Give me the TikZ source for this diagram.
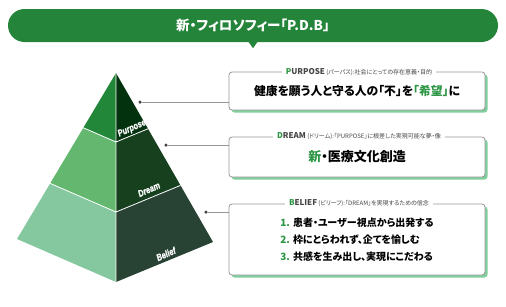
\documentclass[tikz,border=0pt]{standalone}
\usepackage{fontspec}
\setmainfont[RawFeature=+palt]{Noto Sans CJK JP}
\newfontfamily\pyrfont[BoldItalicFeatures={FakeBold=1.2}]{Liberation Sans}
\usetikzlibrary{
    positioning,
    calc,
    shadows
}
\definecolor{pdbgreen}{RGB}{36,133,58}
\definecolor{accentgreen}{RGB}{44,150,68}
\definecolor{shadowgreen}{RGB}{128,206,156}
\definecolor{frameline}{RGB}{150,150,150}
\definecolor{tagtext}{RGB}{70,70,70}
\definecolor{lefttop}{RGB}{35,135,58}
\definecolor{leftmid}{RGB}{100,183,110}
\definecolor{leftlow}{RGB}{133,200,160}
\definecolor{righttop}{RGB}{3,50,15}
\definecolor{rightmid}{RGB}{22,64,30}
\definecolor{rightlow}{RGB}{40,66,52}
\newcommand{\boxtag}[3]{{\bfseries\fontsize{8}{9}\selectfont\textcolor{accentgreen}{#1}#2}\ #3}
\tikzset{
    titlebar/.style={
        fill=pdbgreen,
        text=white,
        rounded corners=16.5pt,
        minimum width=490pt,
        minimum height=33pt,
        font=\bfseries\fontsize{13.5}{15}\selectfont
    },
    infobox/.style={
        draw=frameline,
        line width=0.8pt,
        rounded corners=3pt,
        fill=white,
        minimum width=256pt,
        drop shadow={shadow xshift=2.5pt, shadow yshift=-2.5pt, fill=shadowgreen, opacity=1},
        font=\bfseries\fontsize{11.8}{13}\selectfont
    },
    boxtitle/.style={
        fill=white,
        inner xsep=4pt,
        inner ysep=1pt,
        text=tagtext,
        font=\fontsize{6}{7}\selectfont
    },
    pyrlabel/.style={
        text=white,
        inner sep=0pt,
        rotate=24,
        xscale=0.78,
        font=\pyrfont\bfseries\itshape\fontsize{9.5}{10}\selectfont
    },
    dot/.style={
        circle,
        fill=tagtext,
        inner sep=0pt,
        minimum size=3.5pt
    },
    connector/.style={
        draw=frameline,
        line width=0.8pt
    }
}

\begin{document}
\begin{tikzpicture}[x=1pt, y=-1pt]

    \useasboundingbox (0,0) rectangle (506,306);

    % Titulo
    \node[titlebar] (title) at (253,25.5) {新・フィロソフィー「P.D.B」};
    \fill[pdbgreen] ($(title.south)+(-5,-1)$) -- ($(title.south)+(0,6)$) -- ($(title.south)+(5,-1)$) -- cycle;

    % Piramide
    \coordinate (apex)   at (116,73);
    \coordinate (leftc)  at (17,239);
    \coordinate (base)   at (116,282);
    \coordinate (rightc) at (213,242);
    \coordinate (l1) at ($(apex)!0.33!(leftc)$);
    \coordinate (l2) at ($(apex)!0.665!(leftc)$);
    \coordinate (c1) at ($(apex)!0.33!(base)$);
    \coordinate (c2) at ($(apex)!0.665!(base)$);
    \coordinate (r1) at ($(apex)!0.33!(rightc)$);
    \coordinate (r2) at ($(apex)!0.665!(rightc)$);

    \fill[lefttop]  (apex) -- (l1) -- (c1) -- cycle;
    \fill[leftmid]  (l1) -- (l2) -- (c2) -- (c1) -- cycle;
    \fill[leftlow]  (l2) -- (leftc) -- (base) -- (c2) -- cycle;
    \fill[righttop] (apex) -- (c1) -- (r1) -- cycle;
    \fill[rightmid] (c1) -- (c2) -- (r2) -- (r1) -- cycle;
    \fill[rightlow] (c2) -- (base) -- (rightc) -- (r2) -- cycle;
    \draw[white, line width=0.8pt] (l1) -- (c1) -- (r1) (l2) -- (c2) -- (r2) (apex) -- (base);

    \node[pyrlabel] (purposelabel) at (132,128.5) {Purpose};
    \node[pyrlabel] (dreamlabel)   at (149,189.5) {Dream};
    \node[pyrlabel] (belieflabel)  at (166,254) {Belief};

    % Cajas
    \node[infobox, minimum height=38pt] (purposebox) at (357,91)
        {健康を願う人と守る人の「不」を\textcolor{accentgreen}{「希望」}に};
    \node[infobox, minimum height=40pt, font=\bfseries\fontsize{13}{14}\selectfont] (dreambox) at (357,157)
        {\textcolor{accentgreen}{新}・医療文化創造};
    \node[infobox, minimum height=71pt, align=left, font=\bfseries\fontsize{10}{17}\selectfont] (beliefbox) at (357,239.5)
        {\textcolor{accentgreen}{1.} 患者・ユーザー視点から出発する\\
         \textcolor{accentgreen}{2.} 枠にとらわれず、企てを愉しむ\\
         \textcolor{accentgreen}{3.} 共感を生み出し、実現にこだわる};

    \node[boxtitle] (purposetag) at ([xshift=2pt]purposebox.north)
        {\boxtag{P}{URPOSE}{(パーパス):社会にとっての存在意義・目的}};
    \node[boxtitle] (dreamtag) at ([xshift=2pt]dreambox.north)
        {\boxtag{D}{REAM}{(ドリーム):「PURPOSE」に根差した実現可能な夢・像}};
    \node[boxtitle] (belieftag) at ([xshift=2pt]beliefbox.north)
        {\boxtag{B}{ELIEF}{(ビリーフ):「DREAM」を実現するための信念}};

    % Conectores
    \node[dot] (purposedot) at (140,102) {};
    \node[dot] (dreamdot)   at (166,145) {};
    \node[dot] (beliefdot)  at (206,212) {};

    \draw[connector] (purposedot) -- (purposedot -| purposebox.west);
    \draw[connector] (dreamdot)   -- (dreamdot -| dreambox.west);
    \draw[connector] (beliefdot)  -- (beliefdot -| beliefbox.west);

\end{tikzpicture}
\end{document}
